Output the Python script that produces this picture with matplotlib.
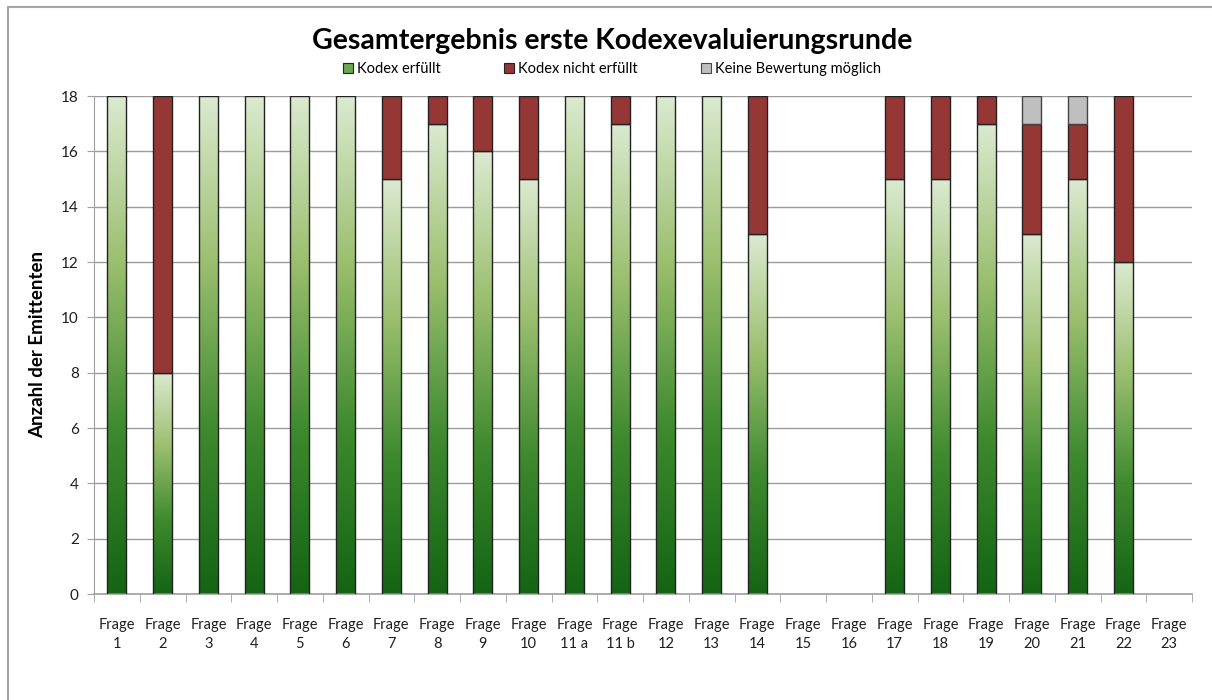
import numpy as np
import matplotlib.pyplot as plt
from matplotlib.patches import Rectangle, Patch
from matplotlib.colors import LinearSegmentedColormap

fragen = ["1", "2", "3", "4", "5", "6", "7", "8", "9", "10", "11 a", "11 b",
          "12", "13", "14", "15", "16", "17", "18", "19", "20", "21", "22", "23"]
erfuellt = [18, 8, 18, 18, 18, 18, 15, 17, 16, 15, 18, 17, 18, 18, 13, 0, 0, 15, 15, 17, 13, 15, 12, 0]
nicht_erfuellt = [0, 10, 0, 0, 0, 0, 3, 1, 2, 3, 0, 1, 0, 0, 5, 0, 0, 3, 3, 1, 4, 2, 6, 0]
keine_bewertung = [0, 0, 0, 0, 0, 0, 0, 0, 0, 0, 0, 0, 0, 0, 0, 0, 0, 0, 0, 0, 1, 1, 0, 0]

plt.rcParams['font.family'] = ['Lato', 'DejaVu Sans']

fig = plt.figure(figsize=(12.12, 7.0), dpi=100)
ax = fig.add_axes([94/1212, 1 - 594/700, (1192 - 94)/1212, (594 - 96)/700])

# Excel-like chart frame (runs off the right and bottom edge)
fig.patches.append(Rectangle((8/1212, -0.05), 1.2, 1 - 7/700 + 0.05, transform=fig.transFigure,
                             fill=False, edgecolor="#a6a6a6", lw=1.5))

x = np.arange(len(fragen))
w = 0.42
red = "#953735"
grey = "#bfbfbf"

gcmap = LinearSegmentedColormap.from_list("g", ["#146414", "#3f8a2f", "#9bbf6f", "#dbead0"])
grad = np.linspace(0, 1, 256).reshape(-1, 1)

for i in x:
    h = erfuellt[i]
    if h > 0:
        ax.imshow(grad, cmap=gcmap, origin="lower", aspect="auto",
                  extent=[i - w/2, i + w/2, 0, h], zorder=2, interpolation="bilinear")
        ax.add_patch(Rectangle((i - w/2, 0), w, h, fill=False, edgecolor="#222222", lw=1.0, zorder=3))

ne = np.array(nicht_erfuellt)
kb = np.array(keine_bewertung)
m1 = ne > 0
ax.bar(x[m1], ne[m1], w, bottom=np.array(erfuellt)[m1], color=red, edgecolor="#222222", lw=1.0, zorder=3)
bottom2 = np.array(erfuellt) + ne
m2 = kb > 0
ax.bar(x[m2], kb[m2], w, bottom=bottom2[m2], color=grey, edgecolor="#444444", lw=1.0, zorder=3)

ax.set_xlim(-0.5, len(fragen) - 0.5)
ax.set_ylim(0, 18)
ax.set_yticks(np.arange(0, 19, 2))
ax.set_xticks(x, ["Frage\n" + f for f in fragen], linespacing=1.45)
ax.set_xticks(np.arange(-0.5, len(fragen)), minor=True)
ax.tick_params(axis="x", which="major", length=0, pad=17, labelsize=10.5, colors="#1f1f1f")
ax.tick_params(axis="x", which="minor", length=6, color="#a0a0a0", direction="out")
ax.tick_params(axis="y", length=5, color="#a0a0a0", labelsize=11, pad=6, labelcolor="#1f1f1f")
ax.grid(axis="y", color="#9c9c9c", lw=1.0, zorder=0)
ax.set_axisbelow(True)
for s in ["top", "right"]:
    ax.spines[s].set_visible(False)
ax.spines["left"].set_color("#a0a0a0")
ax.spines["bottom"].set_color("#a0a0a0")
ax.spines["bottom"].set_linewidth(1.2)

ax.set_ylabel("Anzahl der Emittenten", fontsize=13.5, fontweight="bold", labelpad=11)

fig.text(0.505, 0.942, "Gesamtergebnis erste Kodexevaluierungsrunde", ha="center", va="center",
         fontsize=20.5, fontweight="bold")

handles = [Patch(facecolor="#6aa84f", edgecolor="#222222", lw=0.8),
           Patch(facecolor=red, edgecolor="#222222", lw=0.8),
           Patch(facecolor=grey, edgecolor="#444444", lw=0.8)]
fig.legend(handles, ["Kodex erfüllt", "Kodex nicht erfüllt", "Keine Bewertung möglich"],
           loc="center", bbox_to_anchor=(0.505, 0.901), ncol=3, frameon=False, fontsize=10.5,
           handlelength=0.7, handleheight=0.7, handletextpad=0.3, columnspacing=4.3)

fig.savefig("out.png", dpi=100)
